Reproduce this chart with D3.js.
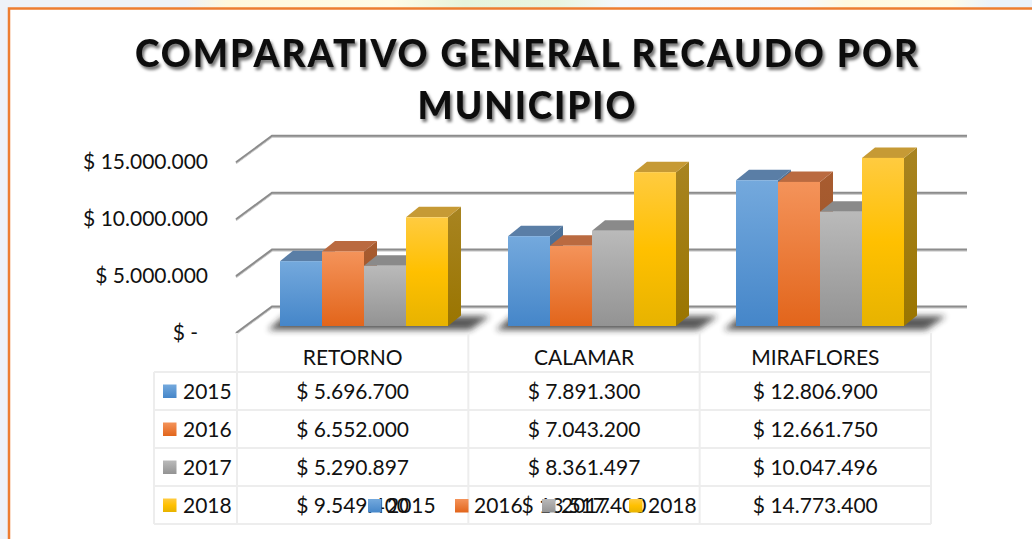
<!DOCTYPE html>
<html>
<head>
<meta charset="utf-8">
<script src="https://d3js.org/d3.v7.min.js"></script>
<style>
  body { margin: 0; background: #fff; }
  text { font-family: Lato, "Open Sans", sans-serif; fill: #111; }
</style>
</head>
<body>
<div id="chart-area"></div>
<script>
// data
var municipios = ["RETORNO", "CALAMAR", "MIRAFLORES"];
var years = ["2015", "2016", "2017", "2018"];
var v2015 = [5696700, 7891300, 12806900];
var v2016 = [6552000, 7043200, 12661750];
var v2017 = [5290897, 8361497, 10047496];
var v2018 = [9549400, 13517400, 14773400];
var yTicks = [0, 5000000, 10000000, 15000000];
var yTickLabels = ["$ -", "$ 5.000.000", "$ 10.000.000", "$ 15.000.000"];
var cellLabels = [
    ["$ 5.696.700", "$ 7.891.300", "$ 12.806.900"],
    ["$ 6.552.000", "$ 7.043.200", "$ 12.661.750"],
    ["$ 5.290.897", "$ 8.361.497", "$ 10.047.496"],
    ["$ 9.549.400", "$ 13.517.400", "$ 14.773.400"]
];
var series = [v2015, v2016, v2017, v2018];

var W = 1032, H = 539;

// 3d look
var floorDx = 36, floorDy = -26.5;   // floor depth
var barDx = 13, barDy = -10.5;       // bar depth
var barShift = 7;                    // bar front sits a bit behind floor front
var wallRight = 967;

var svg = d3.select("#chart-area")
    .append("svg")
        .attr("width", W)
        .attr("height", H);

var defs = svg.append("defs");

// colours per year: front top, front bottom, top face, side top, side bottom
var pal = [
    { a: "#74a9dd", b: "#4586c9", top: "#5a7ea6", s1: "#4d7299", s2: "#3f6288" },
    { a: "#f4935a", b: "#e2651b", top: "#ba6a40", s1: "#a85c30", s2: "#9a5228" },
    { a: "#bababa", b: "#939393", top: "#8a8a8a", s1: "#808080", s2: "#727272" },
    { a: "#ffcb40", b: "#e7b300", top: "#c69a35", s1: "#a88421", s2: "#9a7500" }
];

pal.forEach(function(p, i) {
    var g = defs.append("linearGradient")
        .attr("id", "front" + i)
        .attr("x1", 0).attr("y1", 0).attr("x2", 0).attr("y2", 1);
    g.append("stop").attr("offset", "0%").attr("stop-color", p.a);
    if (i == 3) g.append("stop").attr("offset", "50%").attr("stop-color", "#ffc000");
    g.append("stop").attr("offset", "100%").attr("stop-color", p.b);
    var s = defs.append("linearGradient")
        .attr("id", "side" + i)
        .attr("x1", 0).attr("y1", 0).attr("x2", 0).attr("y2", 1);
    s.append("stop").attr("offset", "0%").attr("stop-color", p.s1);
    s.append("stop").attr("offset", "100%").attr("stop-color", p.s2);
});

var topBand = defs.append("linearGradient").attr("id", "topband");
[["0%", "#eef2f8"], ["18%", "#eef2f8"], ["22%", "#fff8dc"], ["38%", "#fffbe6"],
 ["45%", "#e6f4dc"], ["54%", "#e9f5df"], ["60%", "#f4f8fc"], ["78%", "#f7f9fb"],
 ["82%", "#fff9df"], ["92%", "#fffbe8"], ["96%", "#eaf2fb"], ["100%", "#eaf2fb"]]
    .forEach(function(s) {
        topBand.append("stop").attr("offset", s[0]).attr("stop-color", s[1]);
    });

var titleShadow = defs.append("filter").attr("id", "tshadow")
    .attr("x", "-5%").attr("y", "-20%").attr("width", "110%").attr("height", "150%");
titleShadow.append("feDropShadow")
    .attr("dx", 2).attr("dy", 3).attr("stdDeviation", 1.8)
    .attr("flood-color", "#000").attr("flood-opacity", 0.55);

var blur = defs.append("filter").attr("id", "blur")
    .attr("x", "-20%").attr("y", "-100%").attr("width", "140%").attr("height", "300%");
blur.append("feGaussianBlur").attr("stdDeviation", 3);

var lineShadow = defs.append("filter").attr("id", "lshadow");
lineShadow.append("feDropShadow")
    .attr("dx", 0).attr("dy", 1).attr("stdDeviation", 0.6)
    .attr("flood-color", "#000").attr("flood-opacity", 0.25);

// backdrop outside the frame
svg.append("rect").attr("x", 0).attr("y", 0).attr("width", W).attr("height", 8)
    .attr("fill", "url(#topband)");
svg.append("rect").attr("x", 0).attr("y", 8).attr("width", 9).attr("height", H)
    .attr("fill", "#eef2f8");
// orange frame
svg.append("path")
    .attr("d", "M9," + H + " V8.5 H" + W)
    .attr("fill", "none")
    .attr("stroke", "#ed7d31")
    .attr("stroke-width", 2.5);

// Title
var title = svg.append("g").attr("filter", "url(#tshadow)");
title.append("text")
    .attr("x", 526.5).attr("y", 67)
    .attr("text-anchor", "middle")
    .attr("font-size", "37px").attr("font-weight", "900")
    .attr("textLength", 783).attr("lengthAdjust", "spacing")
    .text("COMPARATIVO GENERAL RECAUDO POR");
title.append("text")
    .attr("x", 526.5).attr("y", 119)
    .attr("text-anchor", "middle")
    .attr("font-size", "37px").attr("font-weight", "900")
    .attr("textLength", 218).attr("lengthAdjust", "spacing")
    .text("MUNICIPIO");

// Scales
var y = d3.scaleLinear()
    .domain([0, 15000000])
    .range([333, 162.3]);

var floorLeft = 236;
var x = d3.scaleBand()
    .domain(municipios)
    .range([250, 934]);

var groupW = 168;
var xSub = d3.scaleBand()
    .domain(years)
    .range([0, groupW]);

// gridlines (floor + back wall)
svg.append("g").attr("class", "grid")
    .attr("filter", "url(#lshadow)")
    .selectAll("path")
    .data(yTicks)
    .enter().append("path")
        .attr("d", function(d) {
            return "M" + floorLeft + "," + y(d) +
                " L" + (floorLeft + floorDx) + "," + (y(d) + floorDy) +
                " H" + wallRight;
        })
        .attr("fill", "none")
        .attr("stroke", "#8c8c8c")
        .attr("stroke-width", 2);

// Y labels
svg.append("g").selectAll("text")
    .data(yTicks)
    .enter().append("text")
        .attr("x", function(d) { return d == 0 ? 198 : 208; })
        .attr("y", function(d) { return y(d) + 7; })
        .attr("text-anchor", "end")
        .attr("font-size", "21px")
        .text(function(d, i) { return yTickLabels[i]; });

// floor shadows under each group
svg.append("g").selectAll("path")
    .data(municipios)
    .enter().append("path")
        .attr("d", function(d) {
            var x0 = x(d) + (x.bandwidth() - groupW) / 2;
            var b = y(0) - barShift;
            return "M" + (x0 - 12) + "," + (b + 4) +
                " L" + (x0 + groupW + 22) + "," + (b + 4) +
                " L" + (x0 + groupW + 42) + "," + (b - 10) +
                " L" + (x0 + 4) + "," + (b - 10) + "Z";
        })
        .attr("fill", "#222")
        .attr("opacity", 0.75)
        .attr("filter", "url(#blur)");

// Bars, painted left to right
var bars = [];
municipios.forEach(function(m, mi) {
    years.forEach(function(yr, yi) {
        bars.push({ m: m, yr: yr, yi: yi, value: series[yi][mi] });
    });
});

var barG = svg.append("g").selectAll("g")
    .data(bars)
    .enter().append("g");

function bx(d) { return x(d.m) + (x.bandwidth() - groupW) / 2 + xSub(d.yr); }
function btop(d) { return y(d.value) - barShift; }
var bbase = y(0) - barShift;

// side
barG.append("path")
    .attr("d", function(d) {
        var r = bx(d) + xSub.bandwidth();
        return "M" + r + "," + btop(d) +
            " L" + (r + barDx) + "," + (btop(d) + barDy) +
            " L" + (r + barDx) + "," + (bbase + barDy) +
            " L" + r + "," + bbase + "Z";
    })
    .attr("fill", function(d) { return "url(#side" + d.yi + ")"; });
// top
barG.append("path")
    .attr("d", function(d) {
        var l = bx(d), r = l + xSub.bandwidth(), t = btop(d);
        return "M" + l + "," + t +
            " L" + (l + barDx) + "," + (t + barDy) +
            " L" + (r + barDx) + "," + (t + barDy) +
            " L" + r + "," + t + "Z";
    })
    .attr("fill", function(d) { return pal[d.yi].top; });
// front
barG.append("rect")
    .attr("x", bx)
    .attr("y", btop)
    .attr("width", xSub.bandwidth())
    .attr("height", function(d) { return bbase - btop(d); })
    .attr("fill", function(d) { return "url(#front" + d.yi + ")"; });

// Data table
var tx = d3.scaleBand()
    .domain(municipios)
    .range([237, 931]);
var rowTop = 372, rowH = 38, legLeft = 154;
var tableLines = svg.append("g")
    .attr("stroke", "#ededed")
    .attr("stroke-width", 2);
// vertical
tx.domain().concat(["end"]).forEach(function(m, i) {
    var xx = i < 3 ? tx(m) : tx.range()[1];
    tableLines.append("line")
        .attr("x1", xx).attr("x2", xx)
        .attr("y1", y(0)).attr("y2", rowTop + rowH * 4);
});
tableLines.append("line")
    .attr("x1", legLeft).attr("x2", legLeft)
    .attr("y1", rowTop).attr("y2", rowTop + rowH * 4);
// horizontal
d3.range(5).forEach(function(i) {
    tableLines.append("line")
        .attr("x1", legLeft).attr("x2", tx.range()[1])
        .attr("y1", rowTop + rowH * i).attr("y2", rowTop + rowH * i);
});

// header
svg.append("g").selectAll("text")
    .data(municipios)
    .enter().append("text")
        .attr("x", function(d) { return tx(d) + tx.bandwidth() / 2; })
        .attr("y", 365)
        .attr("text-anchor", "middle")
        .attr("font-size", "21px")
        .text(function(d) { return d; });

// rows
var rows = svg.append("g").selectAll("g")
    .data(years)
    .enter().append("g")
        .attr("transform", function(d, i) { return "translate(0," + (rowTop + rowH * i) + ")"; });
rows.append("rect")
    .attr("x", 163).attr("y", 12.5)
    .attr("width", 13.5).attr("height", 13.5)
    .attr("fill", function(d, i) { return "url(#front" + i + ")"; });
rows.append("text")
    .attr("x", 183).attr("y", 26.5)
    .attr("font-size", "21px")
    .text(function(d) { return d; });
rows.selectAll("text.cell")
    .data(function(d, i) { return cellLabels[i]; })
    .enter().append("text")
        .attr("class", "cell")
        .attr("x", function(d, j) { return tx(municipios[j]) + tx.bandwidth() / 2; })
        .attr("y", 26.5)
        .attr("text-anchor", "middle")
        .attr("font-size", "21px")
        .text(function(d) { return d; });

// stray legend (sits over the last row)
var legend = svg.append("g").selectAll("g")
    .data(years)
    .enter().append("g")
        .attr("transform", function(d, i) { return "translate(" + (368 + i * 87) + ",499)"; });
legend.append("rect")
    .attr("width", 13.5).attr("height", 13.5)
    .attr("fill", function(d, i) { return "url(#front" + i + ")"; });
legend.append("text")
    .attr("x", 19).attr("y", 14)
    .attr("font-size", "21px")
    .text(function(d) { return d; });
</script>
</body>
</html>
